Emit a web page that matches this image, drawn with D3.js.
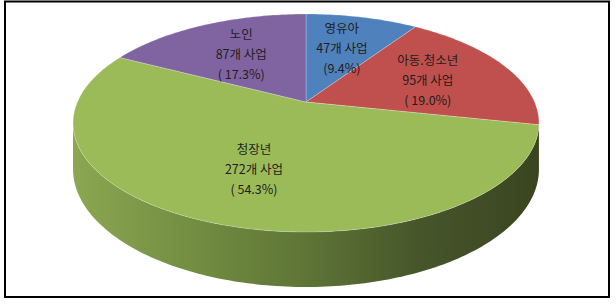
<!DOCTYPE html>
<html>
<head>
    <meta charset="utf-8">
    <script src="https://cdnjs.cloudflare.com/ajax/libs/d3/7.8.5/d3.min.js"></script>
    <style>
        body { margin: 0; background: #fff; }
        .label {
            font-family: "Noto Sans CJK KR", "Noto Sans", sans-serif;
            font-size: 12.5px;
            fill: #1e1e1e;
            text-anchor: middle;
            dominant-baseline: central;
        }
    </style>
</head>
<body>
    <div id="chart"></div>

    <script>
        const width = 616;
        const height = 308;

        // data
        const categories = ["영유아", "아동.청소년", "청장년", "노인"];
        const counts = [47, 95, 272, 87];
        const pctLabels = ["(9.4%)", "( 19.0%)", "( 54.3%)", "( 17.3%)"];
        const topColors = ["#4f81bd", "#c0504d", "#9bbb59", "#8064a2"];
        const sideColors = ["#35557e", "#7e3331", "url(#greenSide)", "#54416c"];

        // perspective projection of the unit disc onto the screen
        const cx = 306, cy = 102;   // where the slice edges meet
        const ax = 228.6, by = 85.3, g = -0.1927, thick = 44.4;

        function proj(theta, r, depth) {
            const u = r * Math.sin(theta);
            const v = -r * Math.cos(theta);
            const den = 1 + g * v;
            return [cx + ax * u / den, (by * v + cy + depth) / den];
        }

        // angles where the side silhouette starts/ends
        const visFrom = Math.acos(g);            // ~101 deg
        const visTo = 2 * Math.PI - visFrom;     // ~259 deg

        function arcPoints(a0, a1, r, depth) {
            const n = Math.max(2, Math.ceil(Math.abs(a1 - a0) / (Math.PI / 180)));
            const pts = [];
            for (let i = 0; i <= n; i++) {
                pts.push(proj(a0 + (a1 - a0) * i / n, r, depth));
            }
            return pts;
        }

        const line = d3.line().curve(d3.curveLinear);

        const svg = d3.select("#chart")
            .append("svg")
            .attr("width", width)
            .attr("height", height);

        const defs = svg.append("defs");
        const grad = defs.append("linearGradient")
            .attr("id", "greenSide")
            .attr("gradientUnits", "userSpaceOnUse")
            .attr("x1", 72).attr("y1", 0)
            .attr("x2", 538).attr("y2", 0);
        [["0%", "#8ca752"], ["28%", "#718b40"], ["50%", "#5e7536"],
         ["75%", "#46552a"], ["100%", "#3a4520"]].forEach(s => {
            grad.append("stop").attr("offset", s[0]).attr("stop-color", s[1]);
        });

        const pie = d3.pie().sort(null).value(d => d);
        const arcs = pie(counts);

        // side walls (only the front part shows)
        const sideG = svg.append("g");
        arcs.forEach((d, i) => {
            const a0 = Math.max(d.startAngle, visFrom);
            const a1 = Math.min(d.endAngle, visTo);
            if (a1 <= a0) return;
            const top = arcPoints(a0, a1, 1, 0);
            const bottom = arcPoints(a1, a0, 1, thick);
            sideG.append("path")
                .attr("d", line(top.concat(bottom)) + "Z")
                .attr("fill", sideColors[i]);
        });

        // top faces
        const topG = svg.append("g");
        arcs.forEach((d, i) => {
            const pts = [proj(0, 0, 0)].concat(arcPoints(d.startAngle, d.endAngle, 1, 0));
            topG.append("path")
                .attr("d", line(pts) + "Z")
                .attr("fill", topColors[i])
                .attr("stroke", "rgba(255,255,255,0.35)")
                .attr("stroke-width", 0.7)
                .attr("stroke-linejoin", "round");
        });

        // labels
        const labelG = svg.append("g");
        arcs.forEach((d, i) => {
            const mid = (d.startAngle + d.endAngle) / 2;
            const [lx, ly] = proj(mid, 0.6, 0);
            const lines = [categories[i], counts[i] + "개 사업", pctLabels[i]];
            lines.forEach((t, k) => {
                labelG.append("text")
                    .attr("class", "label")
                    .attr("x", lx)
                    .attr("y", ly + (k - 1) * 20)
                    .text(t);
            });
        });

        // outer frame
        svg.append("rect")
            .attr("x", 5)
            .attr("y", 1.5)
            .attr("width", 604)
            .attr("height", 295.5)
            .attr("fill", "none")
            .attr("stroke", "#000")
            .attr("stroke-width", 2);
    </script>
</body>
</html>
